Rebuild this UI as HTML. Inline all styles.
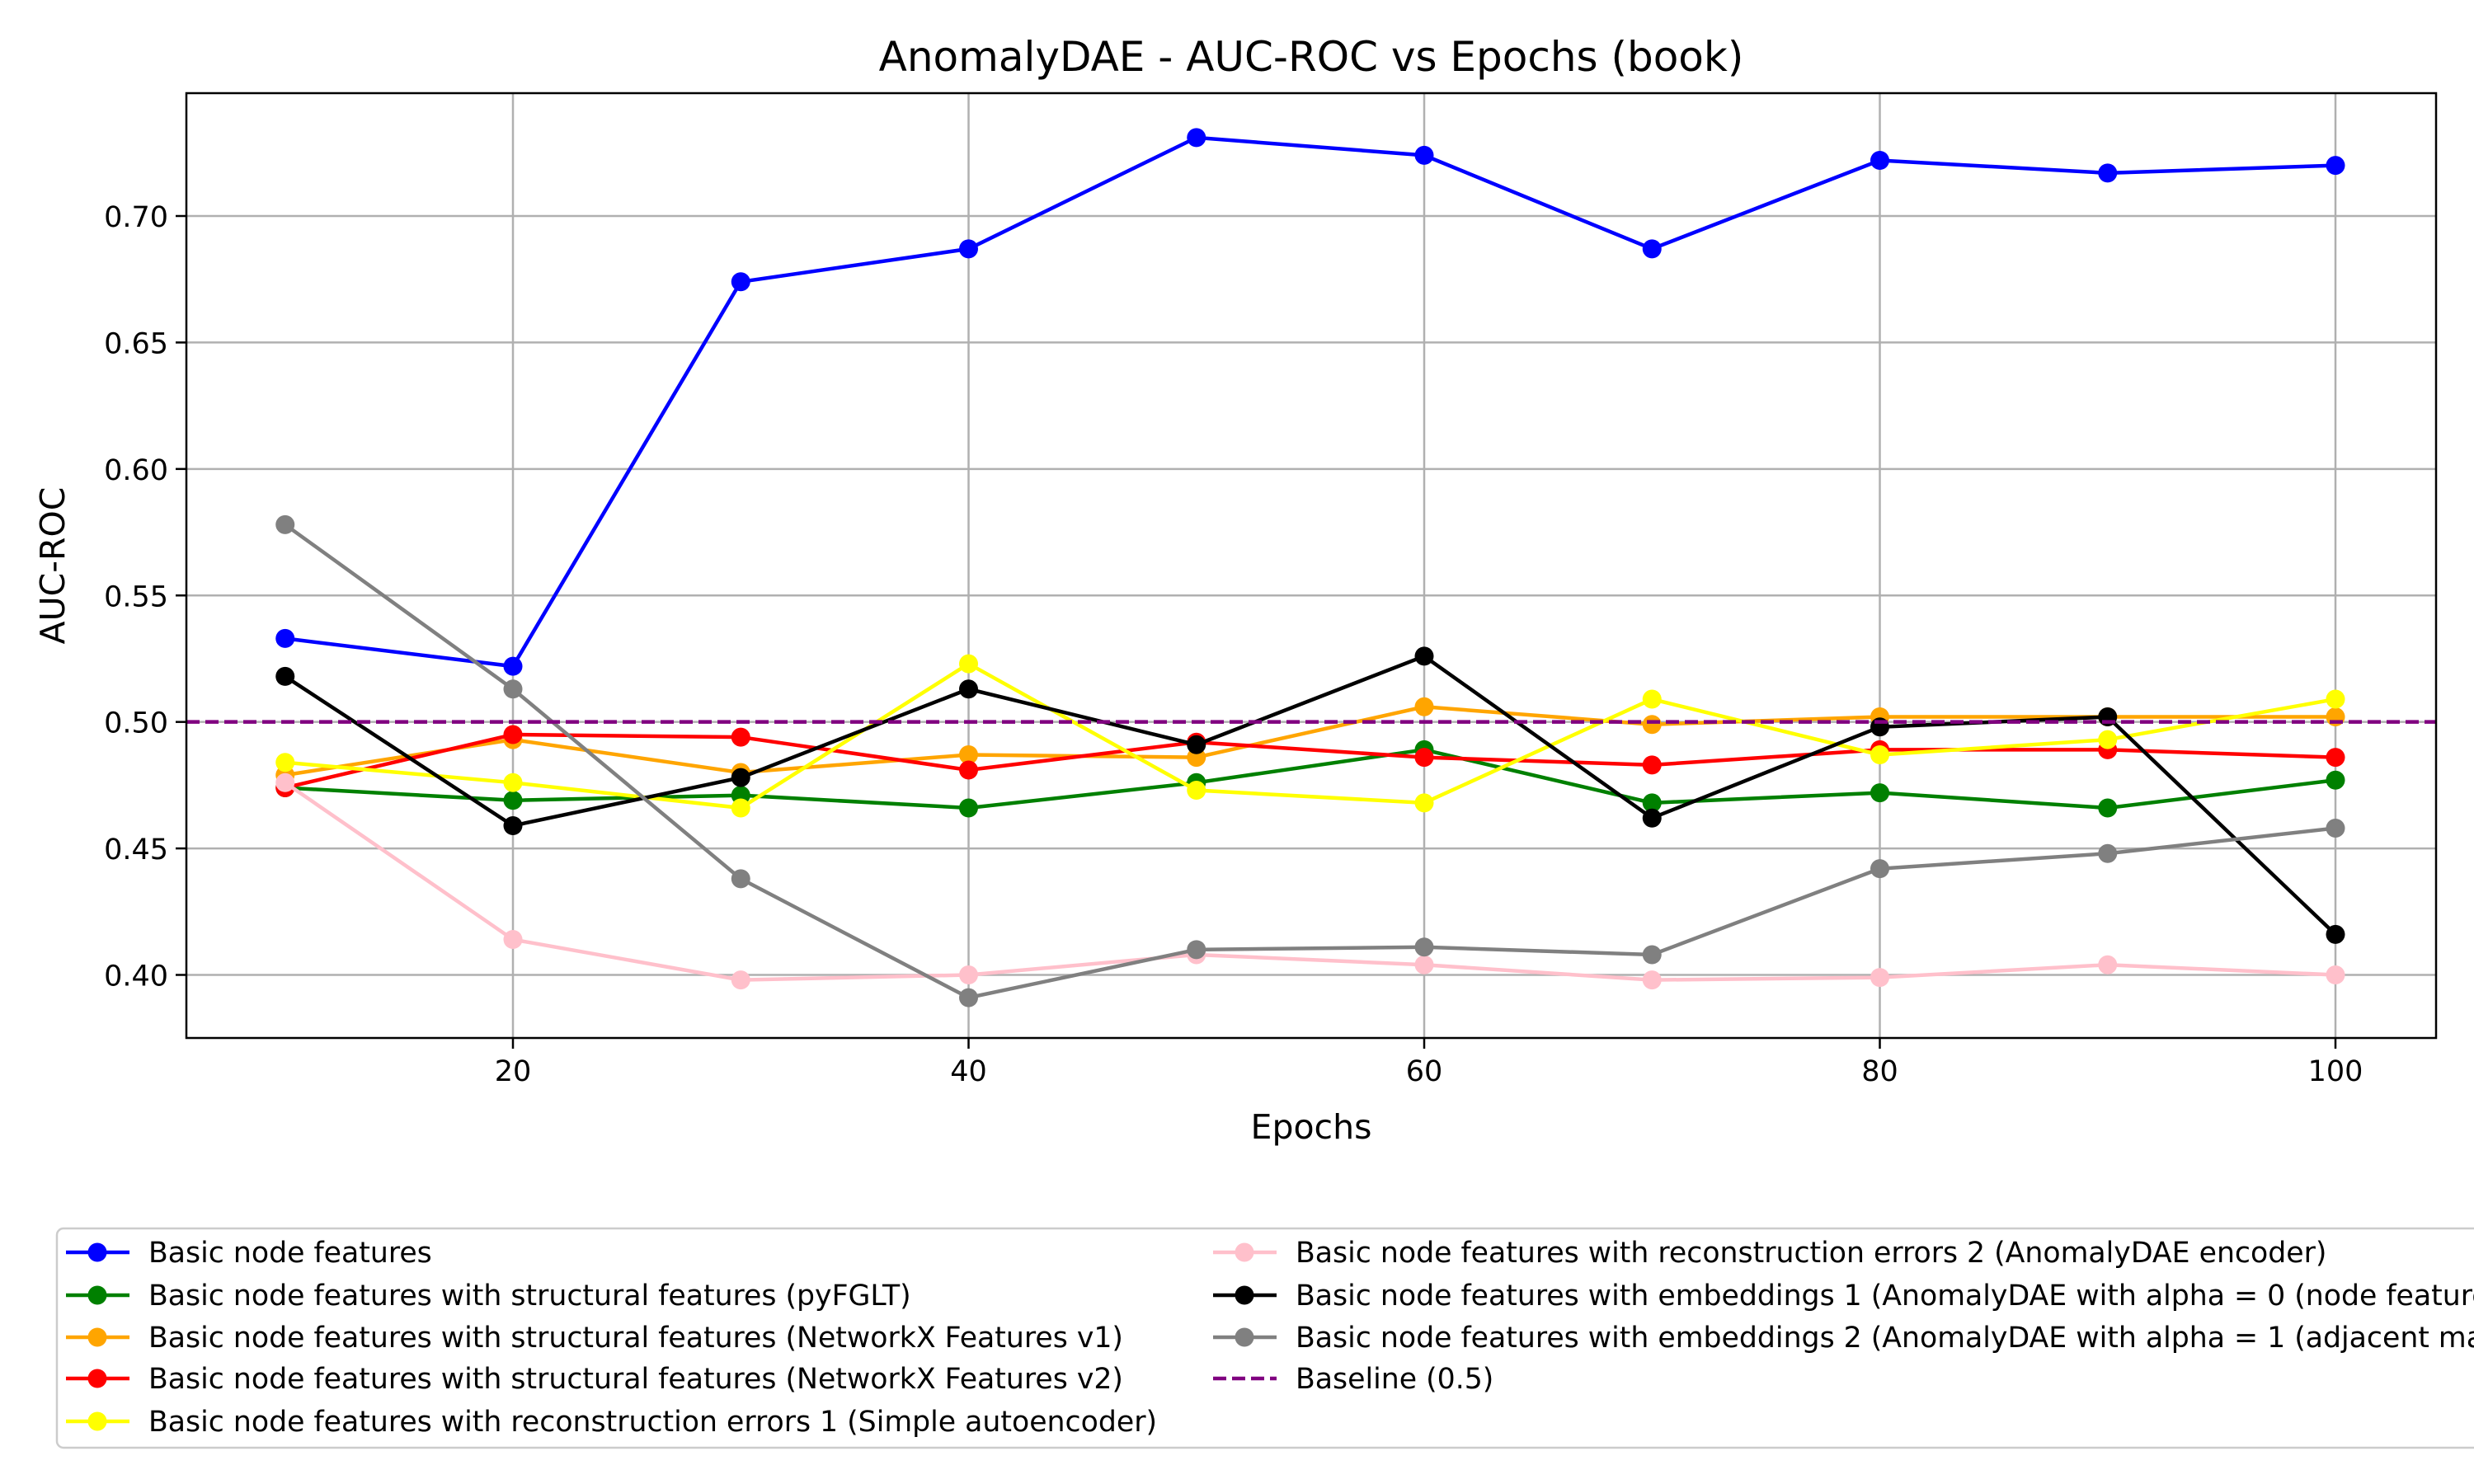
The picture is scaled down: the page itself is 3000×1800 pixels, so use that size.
<!DOCTYPE html>
<html><head><meta charset="utf-8"><style>
html,body{margin:0;padding:0;background:#fff;}
svg{display:block;font-family:"DejaVu Sans","Liberation Sans",sans-serif;}
</style></head><body>
<svg id="chart" width="3000" height="1800" viewBox="0 0 3000 1800" xmlns="http://www.w3.org/2000/svg">
<rect width="3000" height="1800" fill="#fff"/>
<g id="grid"></g>
<g id="series"></g>
<rect x="226" y="113" width="2728" height="1146" fill="none" stroke="#000" stroke-width="2.5"/>
<g id="ticks"></g>
<text x="1590" y="86" font-size="50" text-anchor="middle">AnomalyDAE - AUC-ROC vs Epochs (book)</text>
<text x="1590" y="1381" font-size="41" text-anchor="middle">Epochs</text>
<text x="78" y="686" font-size="41" text-anchor="middle" transform="rotate(-90 78 686)">AUC-ROC</text>
<g id="legend">
<rect x="69" y="1490" width="3000" height="266" rx="8" fill="#fff" stroke="#ccc" stroke-width="2.5"/>
</g>
</svg>
<script>
const epochs = [10,20,30,40,50,60,70,80,90,100];
const seriesNames = [
 "Basic node features",
 "Basic node features with structural features (pyFGLT)",
 "Basic node features with structural features (NetworkX Features v1)",
 "Basic node features with structural features (NetworkX Features v2)",
 "Basic node features with reconstruction errors 1 (Simple autoencoder)",
 "Basic node features with reconstruction errors 2 (AnomalyDAE encoder)",
 "Basic node features with embeddings 1 (AnomalyDAE with alpha = 0 (node features))",
 "Basic node features with embeddings 2 (AnomalyDAE with alpha = 1 (adjacent matrix))"
];
const seriesColors = ["blue","green","orange","red","yellow","pink","black","gray"];
const basic = [0.533,0.522,0.674,0.687,0.731,0.724,0.687,0.722,0.717,0.720];
const pyfglt = [0.474,0.469,0.471,0.466,0.476,0.489,0.468,0.472,0.466,0.477];
const nxv1 = [0.479,0.493,0.480,0.487,0.486,0.506,0.499,0.502,0.502,0.502];
const nxv2 = [0.474,0.495,0.494,0.481,0.492,0.486,0.483,0.489,0.489,0.486];
const recon1 = [0.484,0.476,0.466,0.523,0.473,0.468,0.509,0.487,0.493,0.509];
const recon2 = [0.476,0.414,0.398,0.400,0.408,0.404,0.398,0.399,0.404,0.400];
const emb1 = [0.518,0.459,0.478,0.513,0.491,0.526,0.462,0.498,0.502,0.416];
const emb2 = [0.578,0.513,0.438,0.391,0.410,0.411,0.408,0.442,0.448,0.458];
const baseline = 0.5;
const xTicks = [20,40,60,80,100];
const yTicks = [0.40,0.45,0.50,0.55,0.60,0.65,0.70];
const allSeries = [basic,pyfglt,nxv1,nxv2,recon1,recon2,emb1,emb2];

const NS="http://www.w3.org/2000/svg";
const X0=226,X1=2954,Y0=113,Y1=1259;
function xs(v){return 622+(v-20)*27.625;}
function ys(v){return 1182.5-(v-0.40)*(920.5/0.30);}
function mk(tag,attrs,parent){const e=document.createElementNS(NS,tag);for(const k in attrs)e.setAttribute(k,attrs[k]);parent.appendChild(e);return e;}
const grid=document.getElementById('grid'),ticks=document.getElementById('ticks'),sg=document.getElementById('series'),lg=document.getElementById('legend');

xTicks.forEach(t=>{const x=xs(t);
 let g=mk('line',{x1:x,x2:x,y1:Y0,y2:Y1,stroke:'#b0b0b0','stroke-width':2.5},grid);
 
 
 let tk=mk('line',{x1:x,x2:x,y1:Y1,y2:Y1+13,stroke:'#000','stroke-width':2.5},ticks);
 
 
 let tx=mk('text',{x:x,y:Y1+52,'font-size':35,'text-anchor':'middle'},ticks);tx.textContent=t;
 
 
});
yTicks.forEach(t=>{const y=ys(t);
 let g=mk('line',{x1:X0,x2:X1,y1:y,y2:y,stroke:'#b0b0b0','stroke-width':2.5},grid);
 
 
 let tk=mk('line',{x1:X0-13,x2:X0,y1:y,y2:y,stroke:'#000','stroke-width':2.5},ticks);
 
 
 let tx=mk('text',{x:X0-22,y:y+13,'font-size':35,'text-anchor':'end'},ticks);tx.textContent=t.toFixed(2);
 
 
});

allSeries.forEach((vals,i)=>{
 const g=mk('g',{},sg);
 
 
 const pts=vals.map((v,j)=>xs(epochs[j])+','+ys(v)).join(' ');
 const pl=mk('polyline',{points:pts,fill:'none',stroke:seriesColors[i],'stroke-width':4.5},g);
 
 
 vals.forEach((v,j)=>{
  const c=mk('circle',{cx:xs(epochs[j]),cy:ys(v),r:11.5,fill:seriesColors[i]},g);
  
  
 });
});
const bl=mk('line',{x1:X0,x2:X1,y1:ys(baseline),y2:ys(baseline),stroke:'purple','stroke-width':4.5,'stroke-dasharray':'16,7'},sg);



const rowsY=[1519,1571,1622,1672,1724];
const entries=seriesNames.map((n,i)=>({n,c:seriesColors[i]}));
entries.push({n:"Baseline (0.5)",c:"purple",dash:true});
entries.forEach((e,i)=>{
 const col=i<5?0:1,row=i<5?i:i-5;
 const lx=col?1471:80,tx=col?1571:180,y=rowsY[row];
 const g=mk('g',{},lg);
 
 
 mk('line',{x1:lx,x2:lx+77,y1:y,y2:y,stroke:e.c,'stroke-width':4.5,'stroke-dasharray':e.dash?'16,7':'none'},g);
 if(!e.dash)mk('circle',{cx:lx+38,cy:y,r:11.5,fill:e.c},g);
 const t=mk('text',{x:tx,y:y+12,'font-size':34.7},g);t.textContent=e.n;
});
</script>
</body></html>
